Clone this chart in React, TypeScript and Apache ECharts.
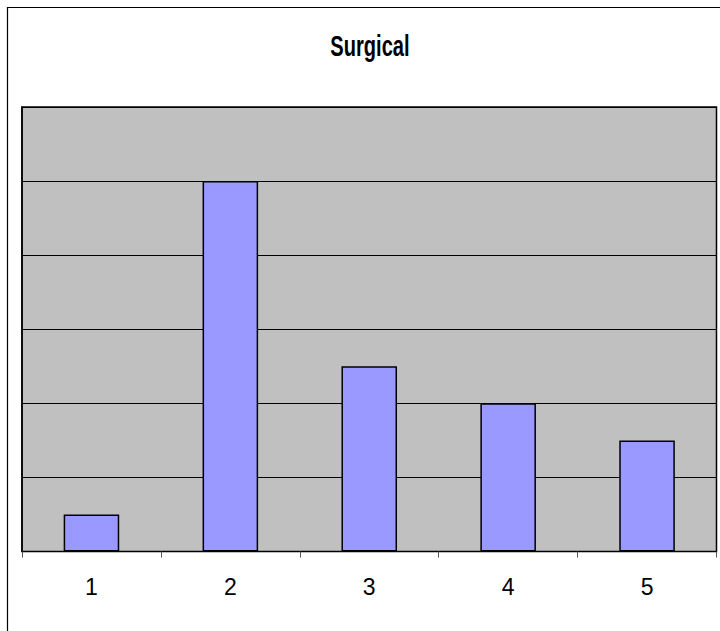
import React, { useEffect, useRef } from "react";
import * as echarts from "echarts";

const categories = ["1", "2", "3", "4", "5"];
const values = [0.5, 5, 2.5, 2, 1.5];
const titleText = "Surgical";

export default function App() {
  const ref = useRef<HTMLDivElement>(null);
  useEffect(() => {
    document.body.style.margin = "0";
    const chart = echarts.init(ref.current!, null, { renderer: "svg" });
    chart.setOption({
      animation: false,
      backgroundColor: "#ffffff",
      graphic: [
        {
          type: "rect",
          shape: { x: 7.5, y: 7.5, width: 720, height: 640 },
          style: { fill: "none", stroke: "#000", lineWidth: 1.2 },
          silent: true,
        },
        {
          type: "text",
          x: 370,
          y: 45,
          scaleX: 0.67,
          style: {
            text: titleText,
            font: "bold 30px 'Liberation Sans', Arial, sans-serif",
            fill: "#000",
            align: "center",
            verticalAlign: "middle",
          },
        },
      ],
      grid: {
        left: 22,
        right: 3.5,
        top: 107,
        bottom: 79.5,
        show: true,
        backgroundColor: "#C0C0C0",
        borderColor: "#000",
        borderWidth: 1.5,
      },
      xAxis: {
        type: "category",
        data: categories,
        boundaryGap: true,
        axisLine: { show: true, lineStyle: { color: "#000", width: 1.2 } },
        axisTick: {
          show: true,
          alignWithLabel: false,
          length: 6,
          lineStyle: { color: "#555" },
        },
        axisLabel: {
          margin: 24,
          fontSize: 23,
          color: "#000",
          fontFamily: "'Liberation Sans', Arial, sans-serif",
        },
        splitLine: { show: false },
      },
      yAxis: {
        type: "value",
        min: 0,
        max: 6,
        interval: 1,
        axisLine: { show: true, lineStyle: { color: "#000", width: 1.5 } },
        axisTick: { show: false },
        axisLabel: { show: false },
        splitLine: { show: true, lineStyle: { color: "#000", width: 1.2 } },
      },
      series: [
        {
          type: "bar",
          data: values,
          barWidth: "40%",
          itemStyle: { color: "#9999FF", borderColor: "#000", borderWidth: 1.5 },
        },
      ],
    });
    return () => chart.dispose();
  }, []);
  return <div ref={ref} style={{ width: 720, height: 631 }} />;
}
